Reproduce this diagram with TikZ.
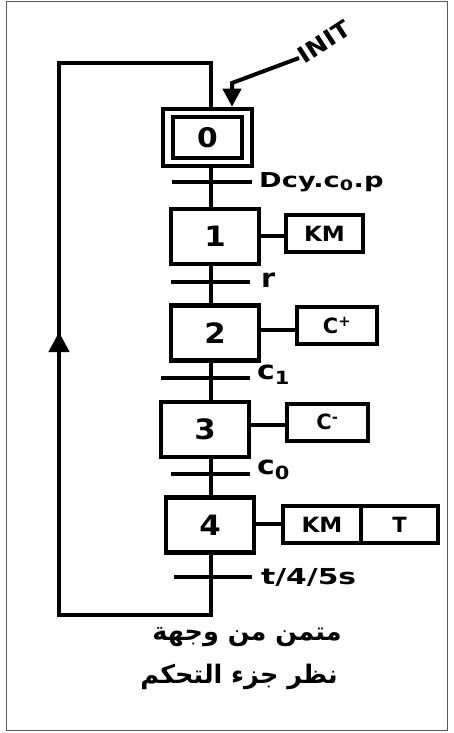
\documentclass[tikz,border=0pt]{standalone}
\usepackage{fontspec}
\usepackage{graphicx}
\setmainfont{DejaVu Sans}
\newfontfamily\arabicfont[Script=Arabic]{DejaVu Sans}
\TeXXeTstate=1
\usetikzlibrary{arrows.meta}
\newcommand\wtx[2][1.33]{\scalebox{#1}[1]{#2}}
\begin{document}
\begin{tikzpicture}[x=1pt,y=-1pt,
  ln/.style={line width=4.5pt},
  stepbox/.style={draw,line width=4.5pt,minimum width=88pt,minimum height=55pt,inner sep=0pt,font=\bfseries\fontsize{28}{28}\selectfont},
  actbox/.style={draw,line width=4pt,minimum height=37pt,inner sep=0pt,font=\bfseries\fontsize{21}{21}\selectfont},
  lbl/.style={anchor=west,inner sep=0pt,font=\bfseries\fontsize{20.5}{20.5}\selectfont},
  lblb/.style={anchor=west,inner sep=0pt,font=\bfseries\fontsize{26}{26}\selectfont},
  captxt/.style={font=\arabicfont\bfseries\fontsize{25.5}{25.5}\selectfont,inner sep=0pt}]
\useasboundingbox (0,0) rectangle (454,733);
\draw[line width=1pt,black!65] (6,2) rectangle (447,730);
\coordinate (L) at (211,0);
% step 0
\node[draw,line width=4.5pt,minimum width=89pt,minimum height=57pt,inner sep=0pt] (s0o) at (207.5,137.5) {};
\node[draw,line width=4.5pt,minimum width=69pt,minimum height=41pt,inner sep=0pt,font=\bfseries\fontsize{27}{27}\selectfont] (s0) at (207.5,137.5) {\wtx[1.1]{0}};
% steps
\node[stepbox] (s1) at (215,236.5) {\wtx[1.1]{1}};
\node[stepbox] (s2) at (215,333) {\wtx[1.1]{2}};
\node[stepbox] (s3) at (205,429.5) {\wtx[1.1]{3}};
\node[stepbox] (s4) at (210,525) {\wtx[1.1]{4}};
% actions
\node[actbox,minimum width=77pt] (a1) at (324.5,233.5) {\wtx[1.1]{KM}};
\node[actbox,minimum width=80pt] (a2) at (337,325.5) {C\textsuperscript{+}};
\node[actbox,minimum width=81pt] (a3) at (327.5,422) {C\textsuperscript{-}};
\node[actbox,minimum width=78pt] (a4a) at (322,524.5) {\wtx[1.1]{KM}};
\node[actbox,minimum width=77pt] (a4b) at (399.5,524.5) {T};
\draw[ln] (s1.east |- 0,236) -- (a1.west |- 0,236);
\draw[ln] (s2.east |- 0,330) -- (a2.west |- 0,330);
\draw[ln] (s3.east |- 0,425) -- (a3.west |- 0,425);
\draw[ln] (s4.east |- 0,524) -- (a4a.west |- 0,524);
% vertical links
\draw[ln] (s0o.south -| L) -- (s1.north -| L);
\draw[ln] (s1.south -| L) -- (s2.north -| L);
\draw[ln] (s2.south -| L) -- (s3.north -| L);
\draw[ln] (s3.south -| L) -- (s4.north -| L);
% transitions
\coordinate (t1l) at (172,182); \coordinate (t1r) at (252,182);
\coordinate (t2l) at (171,282); \coordinate (t2r) at (250,282);
\coordinate (t3l) at (161,378); \coordinate (t3r) at (250,378);
\coordinate (t4l) at (171,474); \coordinate (t4r) at (250,474);
\coordinate (t5l) at (174,577); \coordinate (t5r) at (252,577);
\foreach \i in {1,...,5} {\draw[ln] (t\i l) -- (t\i r);}
\node[lbl] (l1) at ([xshift=7pt]t1r) {\wtx{Dcy.c\textsubscript{0}.p}};
\node[lblb] (l2) at ([xshift=11pt,yshift=2pt]t2r) {\wtx[1.1]{r}};
\node[lblb] (l3) at ([xshift=7pt,yshift=3pt]t3r) {\wtx[1.15]{c\textsubscript{1}}};
\node[lblb] (l4) at ([xshift=7pt,yshift=4pt]t4r) {\wtx[1.15]{c\textsubscript{0}}};
\node[lbl,font=\bfseries\fontsize{22}{22}\selectfont] (l5) at ([xshift=9pt]t5r) {\wtx[1.35]{t/4/5s}};
% loop
\coordinate (b1) at (211,615);
\coordinate (b2) at (59,615);
\coordinate (b3) at (59,63);
\coordinate (b4) at (211,63);
\draw[ln,line join=miter] (s4.south -| L) -- (b1) -- (b2) -- (b3) -- (b4) -- (s0o.north -| L);
\draw[ln,-{Triangle[length=20pt,width=20pt]}] (b2) -- (59,332);
% INIT
\coordinate (i1) at (299,58);
\coordinate (i2) at (232,83);
\node[rotate=33,anchor=west,inner sep=1pt,font=\bfseries\fontsize{23}{23}\selectfont] (init) at (i1) {\wtx[1.1]{INIT}};
\draw[line width=4pt,-{Triangle[length=18pt,width=18pt]}] (init.west) -- (i2) -- (s0o.north -| i2);
% caption
\node[captxt] (c1) at (247,637) {\beginR متمن من وجهة\endR};
\node[captxt] (c2) at (239,677) {\beginR نظر جزء التحكم\endR};
\end{tikzpicture}
\end{document}
